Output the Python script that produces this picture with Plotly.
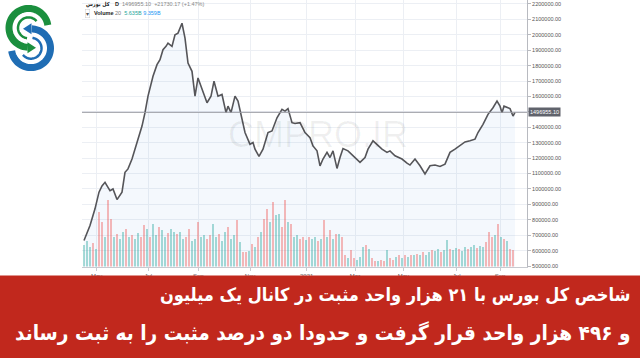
import numpy as np
import plotly.graph_objects as go

# ---------------- data ----------------
price_day = [0, 3, 6, 11, 15, 18, 21, 24, 26, 29, 33, 38, 41, 44, 48, 53, 58, 61, 64, 69,
             73, 76, 79, 82, 84, 88, 91, 94, 98, 101, 104, 108, 111, 114, 118, 123, 127, 130,
             134, 138, 142, 144, 147, 151, 154, 158, 161, 166, 169, 171, 175, 179, 184, 188,
             193, 198, 201, 204, 208, 211, 216, 221, 226, 229, 233, 236, 239, 243, 246, 249,
             253, 256, 259, 264, 269, 276, 281, 284, 289, 293, 298, 303, 306, 311, 318, 323,
             326, 331, 336, 341, 346, 351, 356, 361, 366, 371, 376, 381, 386, 391, 394, 399,
             404, 409, 413, 416, 418, 420, 424, 426, 429, 431]
price_k = [666, 720, 763, 871, 979, 1020, 1043, 1010, 989, 1000, 931, 979, 1108, 1130, 1194,
           1301, 1408, 1495, 1602, 1731, 1806, 1839, 1903, 1925, 1946, 1925, 2000, 2011, 2075,
           1979, 1817, 1763, 1602, 1720, 1645, 1559, 1602, 1699, 1602, 1613, 1495, 1537, 1495,
           1602, 1570, 1452, 1366, 1290, 1301, 1258, 1211, 1258, 1366, 1376, 1462, 1516, 1505,
           1521, 1430, 1425, 1430, 1366, 1333, 1279, 1247, 1150, 1194, 1237, 1204, 1247, 1133,
           1204, 1262, 1247, 1215, 1172, 1204, 1258, 1312, 1290, 1258, 1237, 1247, 1215, 1194,
           1168, 1155, 1194, 1150, 1097, 1150, 1155, 1146, 1161, 1237, 1258, 1284, 1305, 1312,
           1323, 1366, 1419, 1484, 1527, 1570, 1537, 1495, 1537, 1527, 1521, 1473, 1496.955]

volume_b = [7.3, 8.7, 6.7, 8.0, 6.0, 18.3, 15.0, 10.0, 22.3, 16.0,
            10.0, 11.0, 9.3, 11.7, 12.7, 10.0, 10.7, 9.3, 11.3, 10.0,
            14.0, 12.7, 10.0, 14.3, 10.7, 13.3, 12.3, 10.0, 11.3, 12.7,
            11.7, 11.0, 11.7, 9.3, 10.0, 12.7, 8.7, 9.3, 15.0, 10.0,
            10.7, 9.3, 10.7, 14.3, 10.0, 11.0, 8.7, 11.7, 13.3, 9.3,
            10.7, 15.7, 8.3, 5.0, 4.7, 5.3, 7.7, 6.7, 10.0, 11.7,
            16.0, 19.3, 15.0, 21.7, 17.3, 17.7, 13.3, 22.3, 15.0, 14.3,
            10.0, 10.7, 9.3, 10.0, 9.0, 10.0, 9.3, 10.0, 8.7, 9.3,
            15.7, 10.0, 12.3, 9.3, 11.0, 11.0, 10.0, 4.0, 2.7, 5.7,
            3.0, 2.3, 3.3, 6.7, 7.3, 6.0, 2.7, 2.0, 1.7, 2.3,
            2.0, 5.7, 2.7, 2.3, 3.3, 3.7, 3.0, 4.0, 3.3, 3.7,
            4.0, 4.3, 3.7, 4.7, 4.0, 5.0, 5.7, 5.3, 6.0, 5.0,
            5.7, 9.0, 6.0, 5.7, 6.3, 6.0, 5.3, 6.7, 6.0, 6.7,
            7.3, 6.3, 7.0, 6.7, 8.3, 11.7, 10.0, 10.7, 14.3, 10.0,
            9.3, 8.7, 6.0, 5.7]
volume_dir = ("gggrg" "rrgrr" "grggr" "grggr" "rgrgg" "rggrg" "grggr" "rggrg" "grrgg" "rggrg"
              "grgrr" "grgrg" "rrgrg" "grrgr" "ggrrg" "rggrg" "rgrgr" "grrgr" "rgggr" "grrgr"
              "rgrrg" "rgrgr" "grgrg" "grggr" "ggrgg" "rggrg" "grggr" "rrgrg" "rgrr")
volume_day = [3 * i for i in range(len(volume_b))]

tick_days = [12.7, 64.3, 114.3, 166, 222.7, 271, 319.3, 372.7, 416]
tick_text = ["May", "Jul", "Sep", "Nov", "2021", "Mar", "May", "Jul", "Sep"]
price_ticks = list(range(500000, 2200001, 100000))
last_price = 1496955.10

title_line1 = "شاخص کل بورس با ۲۱ هزار واحد مثبت در کانال یک میلیون"
title_line2 = "و ۴۹۶ هزار واحد قرار گرفت و حدودا دو درصد مثبت را به ثبت رساند"

# ---------------- layout helpers ----------------
W, H = 640, 360
def px(X):
    return X / W
def py(Y):
    return 1 - Y / H

prices = [v * 1000 for v in price_k]
vcol = {"g": "rgba(38,166,154,0.40)", "r": "rgba(239,83,80,0.40)"}

fig = go.Figure()

fig.add_trace(go.Bar(x=volume_day, y=volume_b, width=2.2,
                     marker=dict(color=[vcol[c] for c in volume_dir], line=dict(width=0)),
                     xaxis="x", yaxis="y2", hoverinfo="skip"))
fig.add_trace(go.Scatter(x=price_day, y=prices, mode="lines",
                         line=dict(color="#555559", width=1.6),
                         fill="tozeroy", fillcolor="rgba(110,160,225,0.08)",
                         xaxis="x", yaxis="y", hoverinfo="skip"))

shapes = []
# last price line
shapes.append(dict(type="line", xref="x domain", yref="y", x0=0, x1=1,
                   y0=last_price, y1=last_price, line=dict(color="#9a9ca3", width=1)))

# logo (S with arrows) on pixel axes x3/y3
def arc(cx, cy, r, a0, a1, n=60):
    t = np.radians(np.linspace(a0, a1, n))
    xs = cx + r * np.cos(t)
    ys = cy - r * np.sin(t)
    return "M " + " L ".join(f"{a:.2f},{b:.2f}" for a, b in zip(xs, ys))

green = "#1b8f3e"
blue = "#1f6db4"
shapes += [
    dict(type="path", xref="x3", yref="y3", path=arc(28.5, 28, 19.5, 8, 268), line=dict(color=green, width=7)),
    dict(type="path", xref="x3", yref="y3", path=arc(28.5, 28, 10.5, 40, 262), line=dict(color=green, width=2.5)),
    dict(type="path", xref="x3", yref="y3", path="M 36,48 L 27.5,42.5 L 27.5,53.5 Z",
         fillcolor=green, line=dict(color=green, width=0)),
    dict(type="path", xref="x3", yref="y3", path=arc(31, 48.5, 19.5, 88, -172), line=dict(color=blue, width=7)),
    dict(type="path", xref="x3", yref="y3", path=arc(31, 48.5, 10.5, 82, -140), line=dict(color=blue, width=2.5)),
    dict(type="path", xref="x3", yref="y3", path="M 23,29 L 31.5,23.5 L 31.5,34.5 Z",
         fillcolor=blue, line=dict(color=blue, width=0)),
]

# red banner
shapes.append(dict(type="rect", xref="paper", yref="paper", x0=0, x1=1, y0=0, y1=py(277),
                   fillcolor="#c1281d", line=dict(width=0), layer="above"))

annotations = []
# watermark
annotations.append(dict(xref="paper", yref="paper", x=px(318), y=py(135), text="CMPRO.IR",
                        showarrow=False, font=dict(family="Liberation Sans", size=36,
                                                   color="rgba(0,0,0,0.06)")))
# top legend line 1
annotations.append(dict(xref="paper", yref="paper", x=px(84), y=py(4.5), xanchor="left",
                        yanchor="middle", showarrow=False, text="<b>کل بورس</b>",
                        font=dict(family="DejaVu Sans Condensed, DejaVu Sans", size=5.5, color="#222")))
annotations.append(dict(xref="paper", yref="paper", x=px(113), y=py(4.5), xanchor="left",
                        yanchor="middle", showarrow=False,
                        text="<b>D</b>  <span style='color:#888'>1496955.10  +21730.17 (+1.47%)</span>",
                        font=dict(family="Liberation Sans", size=5.5, color="#222")))
# top legend line 2
annotations.append(dict(xref="paper", yref="paper", x=px(85), y=py(13.5), xanchor="left",
                        yanchor="middle", showarrow=False, text="▾",
                        font=dict(family="DejaVu Sans", size=6, color="#555"),
                        bordercolor="#ccc", borderwidth=0.5, borderpad=0.5))
annotations.append(dict(xref="paper", yref="paper", x=px(92), y=py(13.5), xanchor="left",
                        yanchor="middle", showarrow=False,
                        text="<b>Volume</b> <span style='color:#777'>20</span>  "
                             "<span style='color:#26a69a'>5.635B</span> "
                             "<span style='color:#2196f3'>9.359B</span>",
                        font=dict(family="Liberation Sans", size=5.5, color="#222")))
# last price label
annotations.append(dict(xref="paper", yref="y", x=px(528), y=last_price, xanchor="left",
                        yanchor="middle", showarrow=False, text=f"{last_price:.2f}",
                        bgcolor="#60636c", borderpad=1,
                        font=dict(family="Liberation Sans", size=5.5, color="white")))
# banner text
fam = "DejaVu Sans Condensed, DejaVu Sans"
annotations.append(dict(xref="paper", yref="paper", x=px(633), y=py(297), xanchor="right",
                        yanchor="middle", showarrow=False, text="<b>" + title_line1 + "</b>",
                        font=dict(family=fam, size=18, color="white")))
annotations.append(dict(xref="paper", yref="paper", x=px(633), y=py(335), xanchor="right",
                        yanchor="middle", showarrow=False, text="<b>" + title_line2 + "</b>",
                        font=dict(family=fam, size=20.6, color="white")))

fig.update_layout(
    width=W, height=H, margin=dict(l=0, r=0, t=0, b=0),
    paper_bgcolor="white", plot_bgcolor="white",
    showlegend=False, hovermode=False, bargap=0,
    xaxis=dict(domain=[px(82), px(527)], range=[-2, 443], tickvals=tick_days, ticktext=tick_text,
               showgrid=True, gridcolor="#eceff4", gridwidth=1, zeroline=False,
               showline=True, linecolor="#c8cad0", linewidth=1, ticks="outside", ticklen=3,
               tickcolor="#c8cad0", tickfont=dict(size=6, color="#666", family="Liberation Sans"),
               anchor="y", fixedrange=True),
    yaxis=dict(domain=[py(268), 1], range=[496774, 2225806], side="right", anchor="x",
               tickvals=price_ticks,
               ticktext=["" if v == 1500000 else f"{v:.2f}" for v in price_ticks],
               showgrid=True, gridcolor="#eceff4", gridwidth=1, zeroline=False,
               showline=True, linecolor="#b8bac0", linewidth=1, ticks="outside", ticklen=3,
               tickcolor="#b8bac0", tickfont=dict(size=5.5, color="#555", family="Liberation Sans")),
    yaxis2=dict(domain=[py(268), 1], range=[0, 268 / 3], overlaying="y", anchor="x",
                visible=False, showgrid=False),
    xaxis3=dict(domain=[0, px(80)], range=[0, 80], anchor="y3", visible=False),
    yaxis3=dict(domain=[py(80), 1], range=[80, 0], anchor="x3", visible=False),
    shapes=shapes, annotations=annotations,
)

fig.write_html("out.html")
